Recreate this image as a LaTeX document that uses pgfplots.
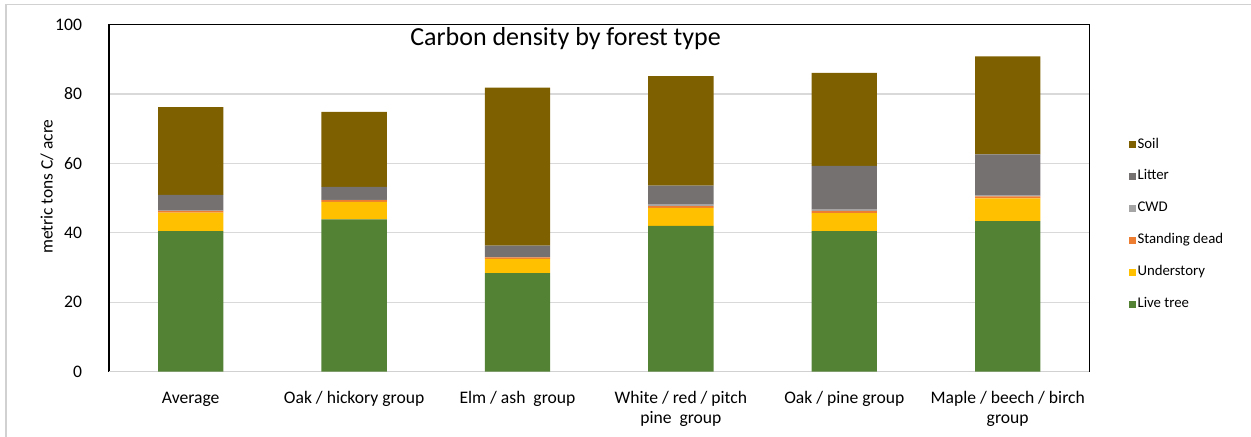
\documentclass[border=0pt]{standalone}
\usepackage{fontspec}
\setmainfont{Carlito}
\usepackage{pgfplots}
\usepackage{pgfplotstable}
\pgfplotsset{compat=1.18}
\definecolor{soil}{HTML}{7F6000}
\definecolor{litter}{HTML}{767171}
\definecolor{cwd}{HTML}{A5A5A5}
\definecolor{sdead}{HTML}{ED7D31}
\definecolor{under}{HTML}{FFC000}
\definecolor{live}{HTML}{548235}
\pgfplotstableread{
x live under sd cwd litter soil
0 40.5 5.3 0.5 0.1 4.5 25.3
1 43.9 5.0 0.5 0.1 3.7 21.6
2 28.4 4.1 0.4 0.1 3.3 45.5
3 42.0 5.2 0.5 0.4 5.5 31.5
4 40.5 5.2 0.6 0.4 12.6 26.8
5 43.4 6.5 0.6 0.2 11.9 28.2
}\datatable
\begin{document}
\begin{tikzpicture}[x=1pt,y=1pt]
\path[use as bounding box] (0,0) rectangle (625.5,218.5);
\draw[black!18, line width=0.8pt] (3,0) -- (3,216.2) -- (625.5,216.2);
\begin{axis}[
  at={(54.5pt,32.65pt)}, anchor=south west,
  scale only axis, width=490.2pt, height=173.6pt,
  ybar stacked, bar width=0.4,
  xmin=-0.5, xmax=5.5, ymin=0, ymax=100,
  xtick={0,...,5},
  xticklabels={Average, Oak / hickory group, Elm / ash~~group, {White / red / pitch\\pine~~group}, Oak / pine group, {Maple / beech / birch\\group}},
  xticklabel style={align=center, font=\fontsize{8.8}{10}\selectfont, yshift=-6.5pt},
  ytick={0,20,...,100},
  yticklabel style={font=\fontsize{8.8}{10}\selectfont, xshift=-10pt},
  /pgf/number format/assume math mode=true,
  ymajorgrids, grid style={draw=black!15, line width=0.6pt},
  major tick length=0pt,
  axis line style={black, line width=0.6pt},
  ylabel={metric tons C/ acre},
  every axis y label/.style={at={(rel axis cs:-0.0632,0.533)}, rotate=90, anchor=center, font=\fontsize{8.7}{10}\selectfont},
  title={Carbon density by forest type},
  title style={at={(0.4657,0.9044)}, anchor=base, font=\fontsize{13}{15}\selectfont},
  reverse legend,
  legend style={draw=none, fill=none, at={(1.0395,0.4245)}, anchor=west,
    font=\fontsize{7.4}{8}\selectfont, row sep=7.45pt, inner sep=0pt,
    nodes={inner sep=1pt, text height=5pt, text depth=1.5pt}},
  legend cell align=left,
  leg/.style={legend image code/.code={\fill[##1] (0pt,-1.75pt) rectangle (3.5pt,1.75pt);}},
]
\addplot[fill=live, draw=none, leg] table[x=x, y=live] {\datatable};
\addlegendentry{Live tree}
\addplot[fill=under, draw=none, leg] table[x=x, y=under] {\datatable};
\addlegendentry{Understory}
\addplot[fill=sdead, draw=none, leg] table[x=x, y=sd] {\datatable};
\addlegendentry{Standing dead}
\addplot[fill=cwd, draw=none, leg] table[x=x, y=cwd] {\datatable};
\addlegendentry{CWD}
\addplot[fill=litter, draw=none, leg] table[x=x, y=litter] {\datatable};
\addlegendentry{Litter}
\addplot[fill=soil, draw=none, leg] table[x=x, y=soil] {\datatable};
\addlegendentry{Soil}
\draw[black!18, line width=0.8pt] (rel axis cs:0,0) -- (rel axis cs:1,0);
\end{axis}
\end{tikzpicture}
\end{document}
